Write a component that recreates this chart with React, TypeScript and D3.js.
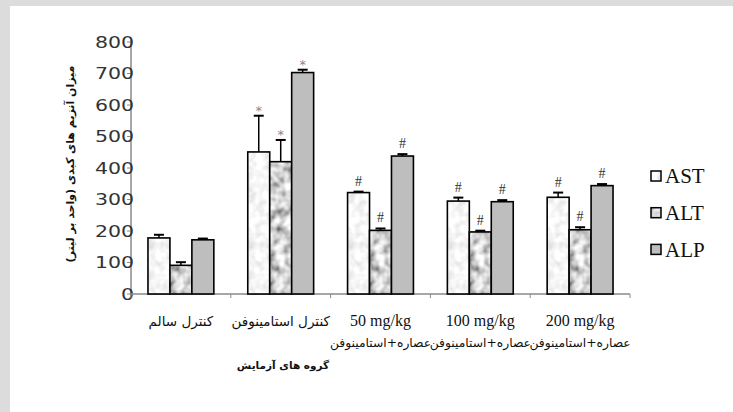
import * as d3 from 'd3';

const GROUPS = ['کنترل سالم', 'کنترل استامینوفن', '50 mg/kg', '100 mg/kg', '200 mg/kg'];
const SUBLABELS = ['', '', 'عصاره+استامینوفن', 'عصاره+استامینوفن', 'عصاره+استامینوفن'];
const SERIES = ['AST', 'ALT', 'ALP'];

const AST = [178, 451, 322, 295, 307];
const AST_ERR = [10, 115, 3, 11, 15];
const ALT = [91, 420, 202, 197, 204];
const ALT_ERR = [10, 69, 6, 4, 8];
const ALP = [172, 703, 438, 293, 344];
const ALP_ERR = [4, 9, 6, 5, 5];
const MARKS = ['', '*', '#', '#', '#'];

const Y_TICKS = [0, 100, 200, 300, 400, 500, 600, 700, 800];

const VALUES: Record<string, number[]> = { AST, ALT, ALP };
const ERRORS: Record<string, number[]> = { AST: AST_ERR, ALT: ALT_ERR, ALP: ALP_ERR };

const FILL: Record<string, string> = { AST: '#ededed', ALT: '#a3a3a3', ALP: '#bebebe' };
const NOISE: Record<string, string | null> = { AST: 'url(#noiseAST)', ALT: 'url(#noiseALT)', ALP: null };

const W = 733;
const H = 412;

export default function App() {
  const x = d3.scaleBand<string>().domain(GROUPS).range([131, 630]);
  const inner = d3.scaleBand<string>().domain(SERIES)
    .range([x.bandwidth() * 0.17, x.bandwidth() * 0.83]);
  const y = d3.scaleLinear().domain([0, 800]).range([294, 42]);
  const bw = inner.bandwidth();

  const serif = '"Liberation Serif", "DejaVu Serif", serif';
  const sans = '"DejaVu Sans", sans-serif';

  return (
    <div style={{ position: 'absolute', left: 0, top: 0 }}>
      <svg width={W} height={H} style={{ display: 'block' }}>
        <defs>
          <filter id="noiseAST" x="0" y="0" width="1" height="1">
            <feTurbulence type="fractalNoise" baseFrequency="0.12" numOctaves="2" seed="4" />
            <feColorMatrix type="matrix"
              values="0.5 0 0 0 0.68  0.5 0 0 0 0.68  0.5 0 0 0 0.68  0 0 0 0 1" />
          </filter>
          <filter id="noiseALT" x="0" y="0" width="1" height="1">
            <feTurbulence type="fractalNoise" baseFrequency="0.11" numOctaves="2" seed="9" />
            <feColorMatrix type="matrix"
              values="1.5 0 0 0 -0.1  1.5 0 0 0 -0.1  1.5 0 0 0 -0.1  0 0 0 0 1" />
          </filter>
        </defs>

        {/* frame */}
        <rect x={0} y={0} width={W} height={H} fill="#dcdcdc" />
        <rect x={10} y={6} width={W - 10} height={H - 6} fill="#fff" />

        {/* y axis */}
        <line x1={131} x2={131} y1={y(800) - 2} y2={y(0)} stroke="#8a8a8a" strokeWidth={1.5} />
        {Y_TICKS.map(t => (
          <g key={t}>
            <line x1={127} x2={131} y1={y(t)} y2={y(t)} stroke="#8a8a8a" strokeWidth={1} />
            <text transform={`translate(134,${y(t)}) scale(1.28,1)`} dy="0.36em" textAnchor="end"
              fontFamily={sans} fontSize={16} fill="#333">{t}</text>
          </g>
        ))}

        {/* x axis */}
        <line x1={131} x2={630} y1={y(0)} y2={y(0)} stroke="#8a8a8a" strokeWidth={1.5} />
        {[...GROUPS.map(g => x(g)!), 630].map((v, i) => (
          <line key={i} x1={v} x2={v} y1={y(0)} y2={y(0) + 4} stroke="#8a8a8a" strokeWidth={1} />
        ))}

        {/* bars */}
        {GROUPS.map((g, gi) => (
          <g key={g} transform={`translate(${x(g)},0)`}>
            {SERIES.map(s => {
              const v = VALUES[s][gi];
              const e = ERRORS[s][gi];
              const bx = inner(s)!;
              const top = y(v);
              const errTop = y(v + e);
              const cx = bx + bw / 2;
              return (
                <g key={s}>
                  <rect x={bx} y={top} width={bw} height={y(0) - top} fill={FILL[s]} />
                  {NOISE[s] && (
                    <rect x={bx} y={top} width={bw} height={y(0) - top} filter={NOISE[s]!} />
                  )}
                  <rect x={bx} y={top} width={bw} height={y(0) - top} fill="none" stroke="#000" strokeWidth={1.6} />
                  <line x1={cx} x2={cx} y1={top} y2={errTop} stroke="#000" strokeWidth={1.5} />
                  <line x1={cx - 5} x2={cx + 5} y1={errTop} y2={errTop} stroke="#000" strokeWidth={2} />
                  {MARKS[gi] === '*' && (
                    <text x={cx} y={errTop - 1} textAnchor="middle" fontFamily={sans} fontSize={13} fill="#888">*</text>
                  )}
                  {MARKS[gi] === '#' && (
                    <text x={cx} y={errTop - 6} textAnchor="middle" fontFamily={serif} fontSize={14} fill="#333">#</text>
                  )}
                </g>
              );
            })}
          </g>
        ))}

        {/* x labels */}
        {GROUPS.map((g, gi) => {
          const cx = x(g)! + x.bandwidth() / 2;
          const persian = gi < 2;
          return (
            <g key={g}>
              <text x={cx} y={326} textAnchor="middle" direction={persian ? 'rtl' : 'ltr'}
                fontFamily={persian ? sans : serif} fontSize={persian ? 13.5 : 16} fill="#111">{g}</text>
              {SUBLABELS[gi] && (
                <text x={cx} y={347} textAnchor="middle" direction="rtl" fontFamily={sans}
                  fontSize={12.3} fill="#111">{SUBLABELS[gi]}</text>
              )}
            </g>
          );
        })}

        {/* axis titles */}
        <text x={283} y={369} textAnchor="middle" direction="rtl" fontFamily={sans} fontWeight="bold"
          fontSize={10.5} fill="#111">گروه های آزمایش</text>
        <text transform="translate(74,164) rotate(-90)" textAnchor="middle" direction="rtl"
          fontFamily={sans} fontWeight="bold" fontSize={11} fill="#111">میزان آنزیم های کبدی (واحد بر لیتر)</text>

        {/* legend */}
        {SERIES.map((s, i) => {
          const ly = 176 + i * 36.7;
          return (
            <g key={s}>
              <rect x={651} y={ly - 5} width={10} height={10} fill={FILL[s]} />
              {NOISE[s] && <rect x={651} y={ly - 5} width={10} height={10} filter={NOISE[s]!} />}
              <rect x={651} y={ly - 5} width={10} height={10} fill="none" stroke="#000" strokeWidth={1.5} />
              <text x={665} y={ly} dy="0.35em" fontFamily={serif} fontSize={21} fill="#111">{s}</text>
            </g>
          );
        })}
      </svg>
    </div>
  );
}
